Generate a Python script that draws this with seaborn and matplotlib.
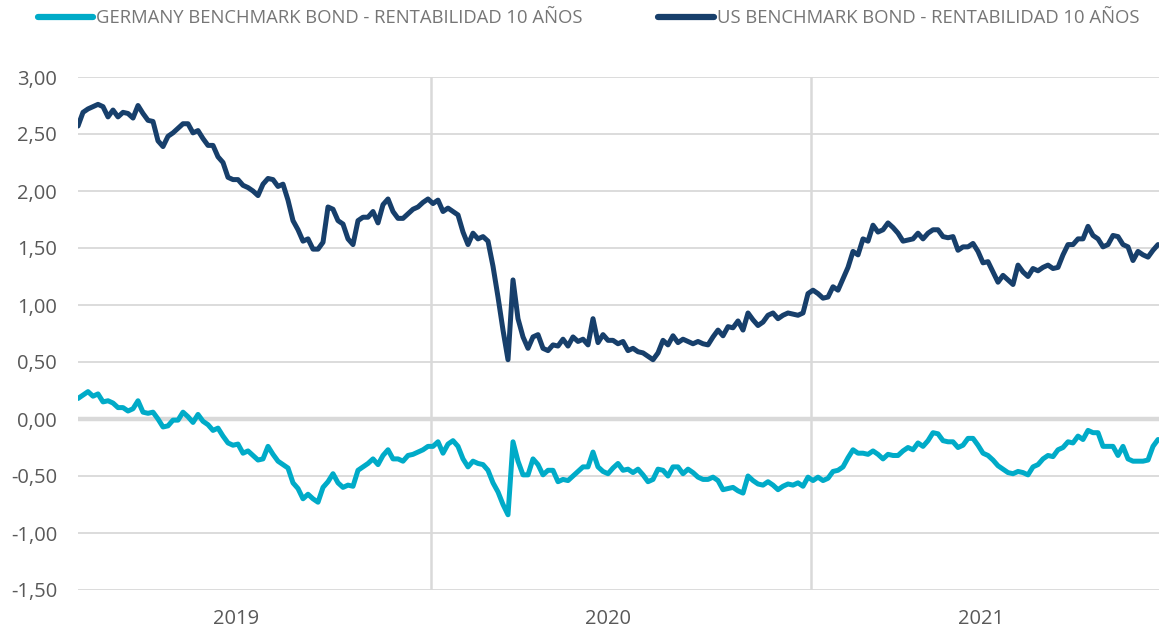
import numpy as np
import pandas as pd
import matplotlib
matplotlib.use("Agg")
import matplotlib.pyplot as plt
from matplotlib.lines import Line2D
from matplotlib.ticker import FuncFormatter
import seaborn as sns

# Yields (%), one reading roughly every few trading days, split by year
years = ["2019", "2020", "2021"]

us_2019 = [2.57, 2.69, 2.72, 2.74, 2.76, 2.74, 2.65, 2.71, 2.65, 2.69,
           2.68, 2.64, 2.75, 2.68, 2.62, 2.61, 2.44, 2.39, 2.48, 2.51,
           2.55, 2.59, 2.59, 2.51, 2.53, 2.46, 2.40, 2.40, 2.30, 2.25,
           2.12, 2.10, 2.10, 2.05, 2.03, 2.00, 1.96, 2.06, 2.11, 2.10,
           2.04, 2.06, 1.92, 1.74, 1.66, 1.56, 1.58, 1.49, 1.49, 1.55,
           1.86, 1.84, 1.74, 1.71, 1.58, 1.53, 1.74, 1.77, 1.77, 1.82,
           1.72, 1.88, 1.93, 1.82, 1.76, 1.76, 1.80, 1.84, 1.86, 1.90,
           1.93]
us_2020 = [1.89, 1.92, 1.82, 1.85, 1.82, 1.79, 1.64, 1.53, 1.63, 1.58,
           1.60, 1.56, 1.34, 1.07, 0.78, 0.52, 1.22, 0.88, 0.72, 0.62,
           0.72, 0.74, 0.62, 0.60, 0.65, 0.64, 0.70, 0.64, 0.72, 0.68,
           0.70, 0.65, 0.88, 0.67, 0.74, 0.69, 0.69, 0.66, 0.68, 0.60,
           0.62, 0.59, 0.58, 0.55, 0.52, 0.58, 0.69, 0.65, 0.73, 0.67,
           0.70, 0.68, 0.66, 0.68, 0.66, 0.65, 0.72, 0.78, 0.73, 0.81,
           0.80, 0.86, 0.78, 0.93, 0.87, 0.82, 0.85, 0.91, 0.93, 0.88,
           0.91, 0.93, 0.92, 0.91, 0.93, 1.10]
us_2021 = [1.13, 1.10, 1.06, 1.07, 1.16, 1.13, 1.23, 1.33, 1.47, 1.44,
           1.58, 1.56, 1.70, 1.64, 1.66, 1.72, 1.68, 1.63, 1.56, 1.57,
           1.58, 1.63, 1.58, 1.63, 1.66, 1.66, 1.60, 1.59, 1.60, 1.48,
           1.51, 1.51, 1.54, 1.47, 1.37, 1.38, 1.29, 1.20, 1.26, 1.22,
           1.18, 1.35, 1.29, 1.25, 1.32, 1.30, 1.33, 1.35, 1.32, 1.33,
           1.44, 1.53, 1.53, 1.58, 1.58, 1.69, 1.61, 1.58, 1.51, 1.53,
           1.61, 1.60, 1.53, 1.51, 1.39, 1.47, 1.44, 1.42, 1.48, 1.53]

de_2019 = [0.18, 0.21, 0.24, 0.20, 0.22, 0.15, 0.16, 0.14, 0.10, 0.10,
           0.07, 0.09, 0.16, 0.06, 0.05, 0.06, 0.00, -0.07, -0.06, -0.01,
           -0.01, 0.06, 0.02, -0.03, 0.04, -0.02, -0.05, -0.10, -0.08, -0.15,
           -0.21, -0.23, -0.22, -0.30, -0.28, -0.32, -0.36, -0.35, -0.24, -0.31,
           -0.37, -0.40, -0.43, -0.56, -0.61, -0.70, -0.66, -0.70, -0.73, -0.60,
           -0.55, -0.48, -0.56, -0.60, -0.58, -0.59, -0.45, -0.42, -0.39, -0.35,
           -0.40, -0.32, -0.27, -0.35, -0.35, -0.37, -0.32, -0.31, -0.29, -0.27,
           -0.24]
de_2020 = [-0.24, -0.20, -0.30, -0.22, -0.19, -0.24, -0.35, -0.42, -0.37, -0.39,
           -0.40, -0.45, -0.56, -0.64, -0.75, -0.84, -0.20, -0.37, -0.49, -0.49,
           -0.35, -0.40, -0.49, -0.45, -0.45, -0.55, -0.53, -0.54, -0.50, -0.46,
           -0.42, -0.42, -0.29, -0.42, -0.46, -0.48, -0.43, -0.39, -0.45, -0.44,
           -0.47, -0.44, -0.49, -0.55, -0.53, -0.44, -0.45, -0.50, -0.42, -0.42,
           -0.48, -0.44, -0.47, -0.51, -0.53, -0.53, -0.51, -0.54, -0.62, -0.61,
           -0.60, -0.63, -0.65, -0.50, -0.54, -0.57, -0.58, -0.55, -0.58, -0.62,
           -0.59, -0.57, -0.58, -0.56, -0.59, -0.51]
de_2021 = [-0.54, -0.51, -0.54, -0.52, -0.46, -0.45, -0.42, -0.34, -0.27, -0.30,
           -0.30, -0.31, -0.28, -0.31, -0.35, -0.31, -0.32, -0.32, -0.28, -0.25,
           -0.27, -0.21, -0.24, -0.19, -0.12, -0.13, -0.19, -0.20, -0.20, -0.25,
           -0.23, -0.17, -0.17, -0.23, -0.30, -0.32, -0.36, -0.41, -0.44, -0.47,
           -0.48, -0.46, -0.47, -0.49, -0.42, -0.40, -0.35, -0.32, -0.33, -0.27,
           -0.25, -0.20, -0.21, -0.15, -0.18, -0.10, -0.12, -0.12, -0.24, -0.24,
           -0.24, -0.32, -0.24, -0.35, -0.37, -0.37, -0.37, -0.36, -0.24, -0.18]

de_label = "GERMANY BENCHMARK BOND - RENTABILIDAD 10 AÑOS"
us_label = "US BENCHMARK BOND - RENTABILIDAD 10 AÑOS"
de_color = "#00ABC8"
us_color = "#173F6B"

us = us_2019 + us_2020 + us_2021
de = de_2019 + de_2020 + de_2021
counts = [len(us_2019), len(us_2020), len(us_2021)]
starts = np.concatenate([[0], np.cumsum(counts)[:-1]])
n = len(us)

df = pd.DataFrame({
    "idx": np.tile(np.arange(n), 2),
    "value": de + us,
    "series": [de_label] * n + [us_label] * n,
})

sns.set_theme(style="white")
plt.rcParams["font.family"] = ["Open Sans", "DejaVu Sans"]

fig = plt.figure(figsize=(11.59, 6.30), dpi=100)
ax = fig.add_axes([78 / 1159, 40 / 630, 1081 / 1159, 513 / 630])

ax.set_ylim(-1.5, 3.0)
ax.set_xlim(0, n - 1 + 0.2)
ax.set_yticks(np.arange(-1.5, 3.01, 0.5))
ax.yaxis.grid(True, color="#D9D9D9", linewidth=1.3)
ax.set_axisbelow(True)
ax.axhline(0, color="#D9D9D9", linewidth=3.2, zorder=1)

# year separators
for s in starts[1:]:
    ax.axvline(s - 0.5, color="#D9D9D9", linewidth=1.8, zorder=1)

sns.lineplot(data=df, x="idx", y="value", hue="series",
             palette={de_label: de_color, us_label: us_color},
             linewidth=3.6, legend=False, ax=ax, zorder=3)

ax.yaxis.set_major_formatter(FuncFormatter(lambda v, p: f"{v:.2f}".replace(".", ",")))
label_frac = [0.445, 0.46, 0.48]
ax.set_xticks([s + f * c for s, f, c in zip(starts, label_frac, counts)])
ax.set_xticklabels(years)
ax.tick_params(axis="y", length=0, pad=15, labelsize=14.5, labelcolor="#595959")
ax.tick_params(axis="x", length=0, pad=14, labelsize=14.5, labelcolor="#595959")
ax.set_xlabel("")
ax.set_ylabel("")
for sp in ax.spines.values():
    sp.set_visible(False)

handles = [Line2D([0], [0], color=de_color, lw=4.5, solid_capstyle="round"),
           Line2D([0], [0], color=us_color, lw=4.5, solid_capstyle="round")]
fig.legend(handles, [de_label, us_label], loc="upper left",
           bbox_to_anchor=(38 / 1159, 1 - 9 / 630), ncol=2, frameon=False,
           fontsize=13.3, handlelength=3.0, handletextpad=0.15, columnspacing=4.1,
           borderpad=0, borderaxespad=0, labelcolor="#767676")

fig.savefig("out.png", dpi=100)
